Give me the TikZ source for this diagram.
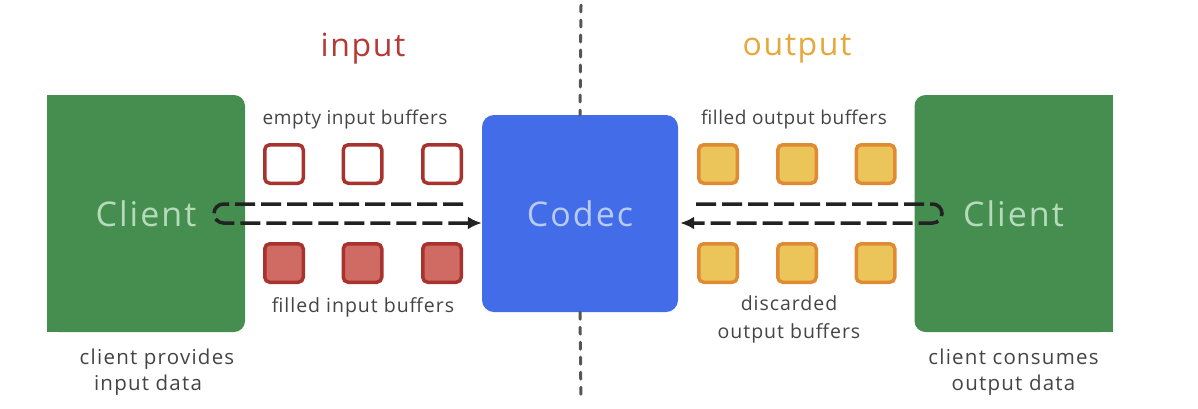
\documentclass[tikz,border=0pt]{standalone}
\usepackage{fontspec}
\setmainfont{Open Sans}
\usetikzlibrary{arrows.meta}
\definecolor{cgreen}{HTML}{458E4F}
\definecolor{cgreentxt}{HTML}{B5DBBB}
\definecolor{cblue}{HTML}{426CE8}
\definecolor{cbluetxt}{HTML}{B8CAF6}
\definecolor{redline}{HTML}{A8322D}
\definecolor{redfill}{HTML}{D06B63}
\definecolor{orline}{HTML}{E08A33}
\definecolor{orfill}{HTML}{EBC55A}
\definecolor{intxt}{HTML}{B53A34}
\definecolor{outtxt}{HTML}{E6A83A}
\definecolor{lbl}{HTML}{444444}
\definecolor{dash}{HTML}{222222}
\definecolor{divider}{HTML}{555555}
\newcommand{\bigfont}{\fontsize{34}{38}\selectfont\addfontfeature{LetterSpace=6}}
\newcommand{\headfont}{\fontsize{32}{36}\selectfont\addfontfeature{LetterSpace=5}}
\newcommand{\lblfont}{\fontsize{19}{28}\selectfont\addfontfeature{LetterSpace=3}}
\newcommand{\lblfontw}{\fontsize{19.5}{28}\selectfont\addfontfeature{LetterSpace=5}}
\newcommand{\lblfontb}{\fontsize{20.5}{26}\selectfont\addfontfeature{LetterSpace=6}}
\tikzset{
  clientbox/.style={fill=cgreen, minimum width=198pt, minimum height=237pt, rounded corners=11pt, inner sep=0pt},
  clienttxt/.style={text=cgreentxt, font=\bigfont, inner sep=0pt},
  codecbox/.style={fill=cblue, minimum width=196pt, minimum height=197pt, rounded corners=12pt, inner sep=0pt,
    text=cbluetxt, font=\bigfont},
  emptybuf/.style={draw=redline, fill=white, line width=3.5pt, minimum size=38.5pt, inner sep=0pt, rounded corners=5pt},
  filledbuf/.style={draw=redline, fill=redfill, line width=3.5pt, minimum size=38.5pt, inner sep=0pt, rounded corners=5pt},
  outbuf/.style={draw=orline, fill=orfill, line width=3.5pt, minimum size=38.5pt, inner sep=0pt, rounded corners=5pt},
  lbltext/.style={text=lbl, font=\lblfont, align=center, inner sep=0pt},
  headtext/.style={font=\headfont, inner sep=0pt},
  flowline/.style={draw=dash, line width=3.5pt, dash pattern=on 20pt off 6pt, rounded corners=9.5pt},
  flowarrow/.style={flowline, -{Latex[length=14pt,width=13pt]}},
  dividerline/.style={draw=divider, line width=3pt, line cap=round, dash pattern=on 7pt off 8pt},
}
\begin{document}
\begin{tikzpicture}[x=1pt,y=-1pt]
\useasboundingbox (0,0) rectangle (1198,408);
% clients
\node[clientbox] (cl) at (146,213.5) {};
\fill[cgreen] (cl.north west) rectangle ([xshift=30pt]cl.south west);
\node[clienttxt] (cltxt) at (cl.center) {Client};
\node[clientbox] (cr) at (1013.5,213.5) {};
\fill[cgreen] (cr.north east) rectangle ([xshift=-30pt]cr.south east);
\node[clienttxt] (crtxt) at (cr.center) {Client};
% codec
\node[codecbox] (codec) at (580,213.5) {Codec};
% divider
\coordinate (dtop) at (581,5);
\coordinate (dbot) at (581,402);
\draw[dividerline] (dtop) -- (codec.north);
\draw[dividerline] (codec.south) -- (dbot);
% headings
\node[headtext, text=intxt] (hin) at (363,49) {input};
\node[headtext, text=outtxt] (hout) at (797,49) {output};
% input buffers
\node[emptybuf] (e1) at (284,164) {};
\node[emptybuf] (e2) at (362.5,164) {};
\node[emptybuf] (e3) at (442,164) {};
\node[filledbuf] (f1) at (284,263) {};
\node[filledbuf] (f2) at (362.5,263) {};
\node[filledbuf] (f3) at (442,263) {};
% output buffers
\node[outbuf] (o1) at (718,164) {};
\node[outbuf] (o2) at (797,164) {};
\node[outbuf] (o3) at (875.5,164) {};
\node[outbuf] (d1) at (718,263) {};
\node[outbuf] (d2) at (797,263) {};
\node[outbuf] (d3) at (875.5,263) {};
% labels
\node[lbltext] (l1) at (355,120) {empty input buffers};
\node[lbltext, font=\lblfontw] (l2) at (363,307) {filled input buffers};
\node[lbltext] (l3) at (794,120) {filled output buffers};
\node[lbltext, font=\lblfontw] (l4) at (789,319) {discarded\\output buffers};
\node[lbltext, font=\lblfontb] (l5) at (157,372) {client provides\\input data\hspace*{18pt}};
\node[lbltext, font=\lblfontb] (l6) at (1013.5,372) {client consumes\\output data};
% flows
\coordinate (inS) at (463,204);
\coordinate (inU) at (214,204);
\coordinate (inD) at (214,223);
\draw[flowarrow] (inS) -- (inU) -- (inD) -- (codec.west |- inD);
\coordinate (outS) at (696,204);
\coordinate (outU) at (942,204);
\coordinate (outD) at (942,223);
\draw[flowarrow] (outS) -- (outU) -- (outD) -- ([xshift=2pt]codec.east |- outD);
\end{tikzpicture}
\end{document}
